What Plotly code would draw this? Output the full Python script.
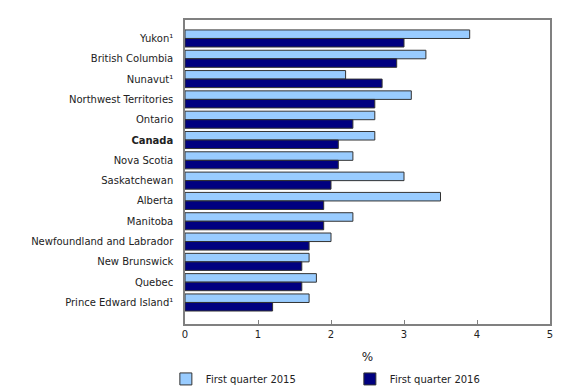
import plotly.graph_objects as go

categories = ["Yukon¹", "British Columbia", "Nunavut¹", "Northwest Territories", "Ontario",
              "<b>Canada</b>", "Nova Scotia", "Saskatchewan", "Alberta", "Manitoba",
              "Newfoundland and Labrador", "New Brunswick", "Quebec", "Prince Edward Island¹"]
q1_2015 = [3.9, 3.3, 2.2, 3.1, 2.6, 2.6, 2.3, 3.0, 3.5, 2.3, 2.0, 1.7, 1.8, 1.7]
q1_2016 = [3.0, 2.9, 2.7, 2.6, 2.3, 2.1, 2.1, 2.0, 1.9, 1.9, 1.7, 1.6, 1.6, 1.2]
x_ticks = [0, 1, 2, 3, 4, 5]

fig = go.Figure()
fig.add_trace(go.Bar(y=categories, x=q1_2015, orientation="h", name="First quarter 2015",
                     marker=dict(color="#99CCFF", line=dict(color="#333333", width=1))))
fig.add_trace(go.Bar(y=categories, x=q1_2016, orientation="h", name="First quarter 2016",
                     marker=dict(color="#000080", line=dict(color="#333333", width=1))))

fig.update_layout(
    width=572, height=382,
    margin=dict(l=177, r=30, t=12, b=66),
    barmode="group", bargap=0.16, bargroupgap=0,
    plot_bgcolor="white", paper_bgcolor="white",
    font=dict(family="DejaVu Sans, Verdana, sans-serif", size=10, color="#222222"),
    xaxis=dict(range=[0, 5], tickvals=x_ticks, showgrid=False, zeroline=False,
               showline=True, linecolor="#808080", linewidth=1.5, mirror=True,
               ticks="inside", ticklen=4, tickcolor="#808080", automargin=False,
               title=dict(text="%", standoff=14)),
    yaxis=dict(range=[14.06, -0.91], showgrid=False, zeroline=False,
               showline=True, linecolor="#808080", linewidth=1.5, mirror=True,
               ticks="", ticklabelstandoff=8, automargin=False),
    legend=dict(orientation="h", x=0.276, xref="container", y=0.029, yref="container",
                yanchor="middle", xanchor="left", entrywidth=139, traceorder="normal",
                font=dict(size=10)),
)

fig.write_html("out.html")
